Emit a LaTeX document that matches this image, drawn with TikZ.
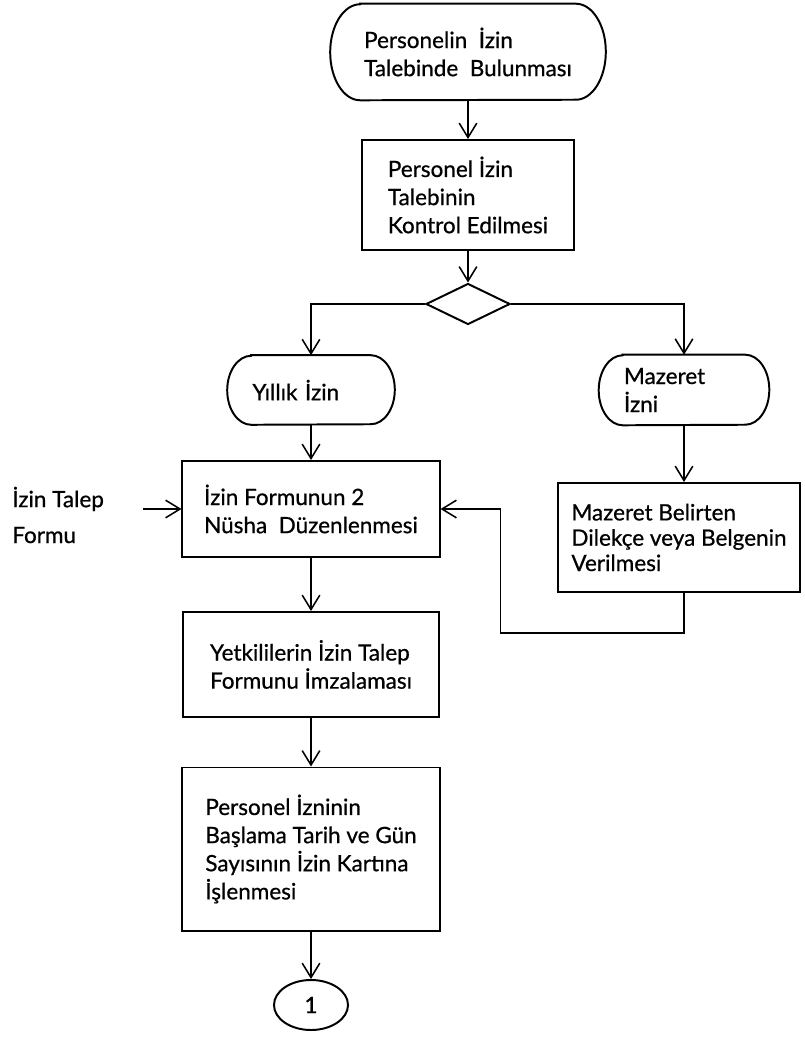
\documentclass[tikz,border=0pt]{standalone}
\usepackage{fontspec}
\setmainfont{Lato}[FakeBold=0.7]
\usetikzlibrary{arrows.meta, shapes.geometric}

\newcommand{\termframe}[3]{%
	\draw[frame] ([xshift=#2]#1.north west) -- ([xshift=-#2]#1.north east)
		arc[start angle=90, end angle=-90, x radius=#2, y radius=#3]
		-- ([xshift=#2]#1.south west)
		arc[start angle=270, end angle=90, x radius=#2, y radius=#3] -- cycle;}

\begin{document}
\begin{tikzpicture}[
				x=0.025cm, y=-0.025cm,
				txt/.style={font=\fontsize{16}{20}\selectfont, align=left},
				frame/.style={line width=1.4pt},
				procbox/.style={txt, draw, frame, rectangle, inner sep=0pt},
				term/.style={txt, inner sep=0pt},
				decision/.style={draw, frame, diamond, inner sep=0pt, minimum width=2.1cm, minimum height=1.025cm},
				conn/.style={draw, frame, ellipse, inner sep=0pt, minimum width=1.85cm, minimum height=1.25cm, font=\fontsize{16}{20}\selectfont},
				arr/.style={line width=1.1pt, -{Straight Barb[length=3.6mm, width=4.4mm]}}
				]
				
				\useasboundingbox (0,0) rectangle (804,1037);
				
				\node[term, minimum width=6.875cm, minimum height=2.4cm] (start) at (468,52) {Personelin\ \ İzin\\Talebinde\ \ Bulunması};
				\node[procbox, minimum width=5.275cm, minimum height=2.75cm] (check) at (468,195) {Personel İzin\\Talebinin\\Kontrol Edilmesi};
				\node[decision] (dia) at (468,304) {};
				
				\node[term, text width=2.925cm, minimum width=4.175cm, minimum height=1.725cm] (yillik) at (311,390) {Yıllık İzin};
				\node[term, text width=3cm, minimum width=4.25cm, minimum height=1.75cm] (mazeret) at (684,390) {Mazeret\\İzni};
				
				\node[txt, font=\fontsize{16}{25.5}\selectfont, anchor=west, inner sep=0pt] (talep) at (12,515) {İzin Talep\\Formu};
				\coordinate (in) at (143,509);
				
				\node[procbox, minimum width=6.425cm, minimum height=2.4cm] (form) at (311,509) {İzin Formunun 2\\Nüsha\ \ Düzenlenmesi};
				\node[procbox, font=\fontsize{16}{18}\selectfont, minimum width=6.05cm, minimum height=2.725cm] (dilekce) at (679,537.5) {Mazeret Belirten\\Dilekçe veya Belgenin\\Verilmesi};
				\node[procbox, minimum width=6.375cm, minimum height=2.625cm] (imza) at (311,664.5) {Yetkililerin İzin Talep\\Formunu İmzalaması};
				\node[procbox, minimum width=6.425cm, minimum height=4.075cm] (kart) at (311,849) {Personel İzninin\\Başlama Tarih ve Gün\\Sayısının İzin Kartına\\İşlenmesi};
				\node[conn] (one) at (311,1005) {1};
				
				\termframe{start}{0.75cm}{1.2cm}
				\termframe{yillik}{0.6cm}{0.8625cm}
				\termframe{mazeret}{0.6cm}{0.875cm}
				
				\draw[arr] (start) -- (check);
				\draw[arr] (check) -- (dia);
				\draw[arr] (dia.west) -| (yillik.north);
				\draw[arr] (dia.east) -| (mazeret.north);
				\draw[arr] (yillik) -- (form);
				\draw[arr] (mazeret) -- (mazeret |- dilekce.north);
				\draw[arr] (in) -- (form);
				\draw[arr] (mazeret |- dilekce.south) -- ++(0,40) -| ([xshift=1.5cm]form.east) -- (form.east);
				\draw[arr] (form) -- (imza);
				\draw[arr] (imza) -- (kart);
				\draw[arr] (kart) -- (one);
				
\end{tikzpicture}
\end{document}
